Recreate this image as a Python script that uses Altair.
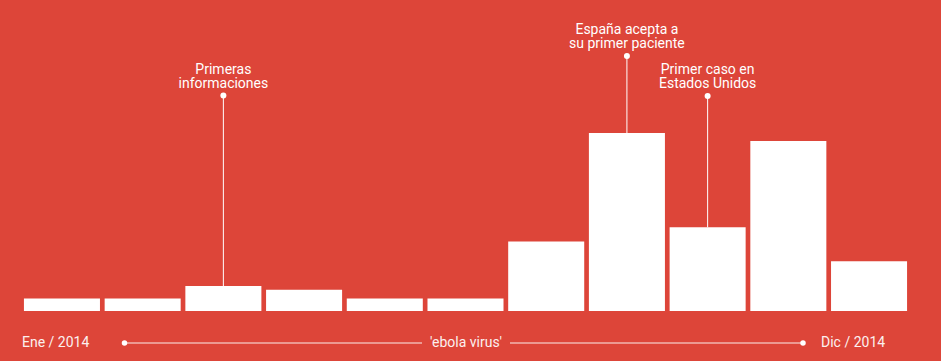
import altair as alt
import pandas as pd

# ---- data ----
periodos = ["P01", "P02", "P03", "P04", "P05", "P06", "P07", "P08", "P09", "P10", "P11"]
interes = [7, 7, 14, 12, 7, 7, 39, 100, 47, 95.5, 28]

anno_periodos = ["P03", "P08", "P09"]
anno_textos = ["Primeras\ninformaciones", "España acepta a\nsu primer paciente", "Primer caso en\nEstados Unidos"]

eje_izq = "Ene / 2014"
eje_der = "Dic / 2014"
eje_centro = "'ebola virus'"

BG = "#DD4539"
FONT = "Roboto"

df = pd.DataFrame({"periodo": periodos, "valor": interes})
anno_df = df[df["periodo"].isin(anno_periodos)].copy()
anno_df["texto"] = [anno_textos[anno_periodos.index(p)] for p in anno_df["periodo"]]

xscale = alt.Scale(domain=periodos, range=[21.6, 909.4], paddingInner=0.058, paddingOuter=0.029)
yscale = alt.Scale(domain=[0, 100], range=[311, 133])

X = alt.X("periodo:N", scale=xscale, axis=None)
Y = alt.Y("valor:Q", scale=yscale, axis=None)

bars = alt.Chart(df).mark_bar(color="white", opacity=1).encode(x=X, y=Y, y2=alt.value(311))

# annotation dot heights (pixel style positions)
dot_px = {"P03": 95.5, "P08": 56, "P09": 96}

layers = [bars]
for p, t in zip(anno_periodos, anno_textos):
    sub = anno_df[anno_df["periodo"] == p]
    d = dot_px[p]
    layers.append(alt.Chart(sub).mark_rule(color="white", strokeWidth=1).encode(x=X, y=Y, y2=alt.value(d)))
    layers.append(alt.Chart(sub).mark_point(filled=True, color="white", opacity=1, size=36).encode(x=X, y=alt.value(d)))
    layers.append(alt.Chart(sub).mark_text(color="white", font=FONT, fontSize=14, lineBreak="\n",
                                           lineHeight=14, baseline="alphabetic", align="center").encode(
        x=X, y=alt.value(d - 22), text="texto:N"))

# bottom "axis" decoration
axis_df = pd.DataFrame({"t": [eje_izq]})
left_line = alt.Chart(axis_df).mark_rule(color="white", strokeWidth=1, opacity=0.9).encode(
    x=alt.value(124), x2=alt.value(422), y=alt.value(343))
right_line = alt.Chart(axis_df).mark_rule(color="white", strokeWidth=1, opacity=0.9).encode(
    x=alt.value(510), x2=alt.value(803), y=alt.value(343))
dot_l = alt.Chart(axis_df).mark_point(filled=True, color="white", opacity=1, size=30).encode(
    x=alt.value(124.5), y=alt.value(343))
dot_r = alt.Chart(axis_df).mark_point(filled=True, color="white", opacity=1, size=30).encode(
    x=alt.value(803), y=alt.value(343))
txt_l = alt.Chart(pd.DataFrame({"t": [eje_izq]})).mark_text(color="white", opacity=0.92, font=FONT, fontSize=14,
                                                           align="left", baseline="middle").encode(
    x=alt.value(22), y=alt.value(343), text="t:N")
txt_r = alt.Chart(pd.DataFrame({"t": [eje_der]})).mark_text(color="white", opacity=0.92, font=FONT, fontSize=14,
                                                           align="left", baseline="middle").encode(
    x=alt.value(821), y=alt.value(343), text="t:N")
txt_c = alt.Chart(pd.DataFrame({"t": [eje_centro]})).mark_text(color="white", opacity=0.92, font=FONT, fontSize=14,
                                                              align="center", baseline="middle").encode(
    x=alt.value(466), y=alt.value(343), text="t:N")

layers += [left_line, right_line, dot_l, dot_r, txt_l, txt_r, txt_c]

chart = alt.layer(*layers).properties(
    width=941, height=361, background=BG, padding=0,
    autosize=alt.AutoSizeParams(type="none"),
).configure_view(stroke=None)

chart.save("out.html", embed_options={"renderer": "svg", "actions": False})
